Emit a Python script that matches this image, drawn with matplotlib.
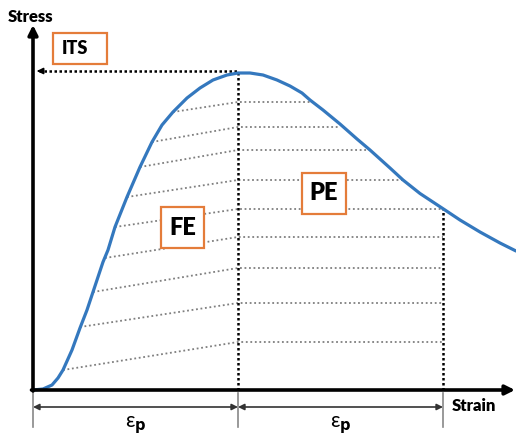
"""Stress-strain sketch with FE / PE energy regions."""

import numpy as np
import matplotlib.pyplot as plt
from matplotlib.patches import Rectangle

plt.rcParams['font.family'] = ['Lato', 'DejaVu Sans']

# stress-strain curve (arbitrary units)
strain = [0, 10, 19, 25, 30, 39, 47, 54, 60, 65, 70, 75, 82, 94, 107, 119, 129, 140,
          154, 167, 180, 194, 205, 217, 230, 244, 257, 269, 277, 290, 307, 324, 337,
          347, 357, 370, 387, 412, 427, 447, 467, 483]
stress = [0, 1, 5, 12, 20, 40, 62, 80, 98, 113, 128, 140, 163, 193, 223, 248, 265, 278,
          292, 302, 310, 315, 317, 317, 315, 310, 304, 297, 290, 280, 266, 251, 240,
          231, 222, 210, 196.5, 180, 170, 158, 147, 139]

its_strain = 205
its_stress = 319
eps_end = 410

# hatch lines: start on rising branch, kink at peak strain, end on falling branch / eps_end
hatch_start_x = [140, 119, 107, 94, 82, 72, 60, 47, 30]
hatch_start_y = [278, 248, 223, 193, 163, 132, 98, 63, 20]
hatch_level = [288, 263, 240, 210, 181, 153, 122, 87, 48]
hatch_end_x = [277, 307, 337, 370, 410, 410, 410, 410, 410]

fig = plt.figure(figsize=(5.16, 4.36), dpi=100)
ax = fig.add_axes([0, 0, 1, 1])
ax.set_xlim(-33, 483)
ax.set_ylim(-46, 390)
ax.axis('off')

# hatch lines
for x0, y0, lvl, x1 in zip(hatch_start_x, hatch_start_y, hatch_level, hatch_end_x):
    ax.plot([x0, its_strain, x1], [y0, lvl, lvl], color='#7f7f7f', lw=1.3,
            ls=(0, (1, 1.5)), zorder=1)

# ITS guide lines
ax.plot([its_strain, its_strain], [0, its_stress], color='black', lw=1.8, ls=(0, (1, 1)), zorder=2)
ax.plot([eps_end, eps_end], [0, hatch_level[4]], color='black', lw=1.8, ls=(0, (1, 1)), zorder=2)
ax.plot([6, its_strain], [its_stress, its_stress], color='black', lw=1.8, ls=(0, (1, 1)), zorder=2)
ax.annotate('', xy=(1, its_stress), xytext=(10, its_stress),
            arrowprops=dict(arrowstyle='-|>', color='black', lw=1.2, mutation_scale=9))

# curve
ax.plot(strain, stress, color='#3478BE', lw=2.3, solid_capstyle='round',
        solid_joinstyle='round', zorder=3)

# axes arrows
ax.annotate('', xy=(0, 365), xytext=(0, -1),
            arrowprops=dict(arrowstyle='-|>', color='black', lw=2.6, mutation_scale=14,
                            shrinkA=0, shrinkB=0))
ax.annotate('', xy=(482, 0), xytext=(-1.5, 0),
            arrowprops=dict(arrowstyle='-|>', color='black', lw=2.6, mutation_scale=14,
                            shrinkA=0, shrinkB=0))
ax.text(-2, 373, 'Stress', ha='center', va='center', fontsize=12, fontweight='heavy')
ax.text(441, -16, 'Strain', ha='center', va='center', fontsize=12, fontweight='heavy')

# dimension lines
for xv in [0, its_strain, eps_end]:
    ax.plot([xv, xv], [-3, -37], color='#888888', lw=1.2)
for xa, xb in [(0, its_strain), (its_strain, eps_end)]:
    ax.annotate('', xy=(xb, -17), xytext=(xa, -17),
                arrowprops=dict(arrowstyle='<|-|>', color='#333333', lw=1.2,
                                mutation_scale=9, shrinkA=0, shrinkB=0))
    ax.text((xa + xb) / 2, -35, r'ε$_{\mathbf{p}}$', ha='center', va='center', fontsize=15)

# labelled boxes
for (x0, y0, w, h, label, fs, tx) in [(20, 326, 54, 31, 'ITS', 13, 0.17),
                                      (128, 142, 43, 41, 'FE', 17, 0.5),
                                      (269, 176, 44, 41, 'PE', 17, 0.5)]:
    ax.add_patch(Rectangle((x0, y0), w, h, fill=True, facecolor='white',
                           edgecolor='#E47C3A', lw=1.6, zorder=4))
    ax.text(x0 + w * tx, y0 + h / 2, label, ha='center' if tx == 0.5 else 'left',
            va='center', fontsize=fs, fontweight='heavy', zorder=5)

fig.savefig('out.png', dpi=100)
